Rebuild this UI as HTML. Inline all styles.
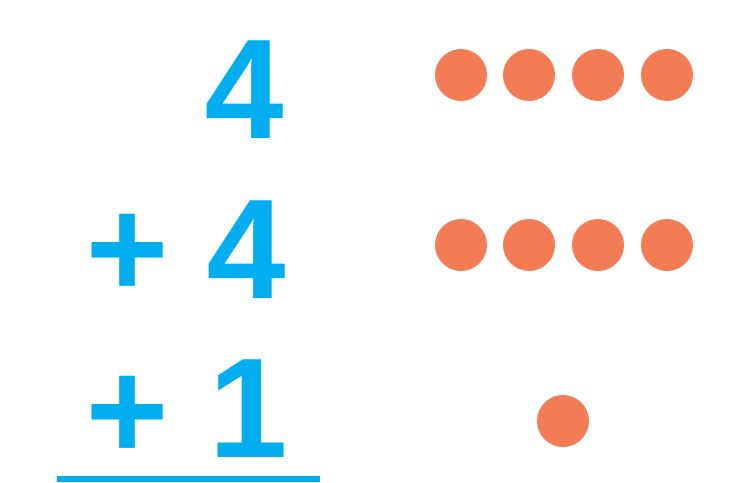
<!DOCTYPE html>
<html><head><style>html,body{margin:0;padding:0;background:#fff;}svg{display:block}</style></head>
<body>
<svg width="752" height="483" viewBox="0 0 752 483" xmlns="http://www.w3.org/2000/svg">
<g fill="#00AEEF" font-family="Liberation Sans, sans-serif" font-weight="bold">
<text x="244" y="138" font-size="142" text-anchor="middle">4</text>
<text x="246" y="298" font-size="142" text-anchor="middle">4</text>
<text x="248" y="457" font-size="142" text-anchor="middle">1</text>
<text x="127" y="297" font-size="142" text-anchor="middle">+</text>
<text x="127" y="459" font-size="142" text-anchor="middle">+</text>
</g>
<rect x="57" y="476" width="263" height="6" fill="#00AEEF"/>
<g fill="#F47C55">
<circle cx="461" cy="75" r="26"/><circle cx="529" cy="75" r="26"/><circle cx="598" cy="75" r="26"/><circle cx="667" cy="75" r="26"/>
<circle cx="461" cy="245" r="26"/><circle cx="529" cy="245" r="26"/><circle cx="598" cy="245" r="26"/><circle cx="667" cy="245" r="26"/>
<circle cx="563" cy="421" r="26"/>
</g>
</svg>
</body></html>
